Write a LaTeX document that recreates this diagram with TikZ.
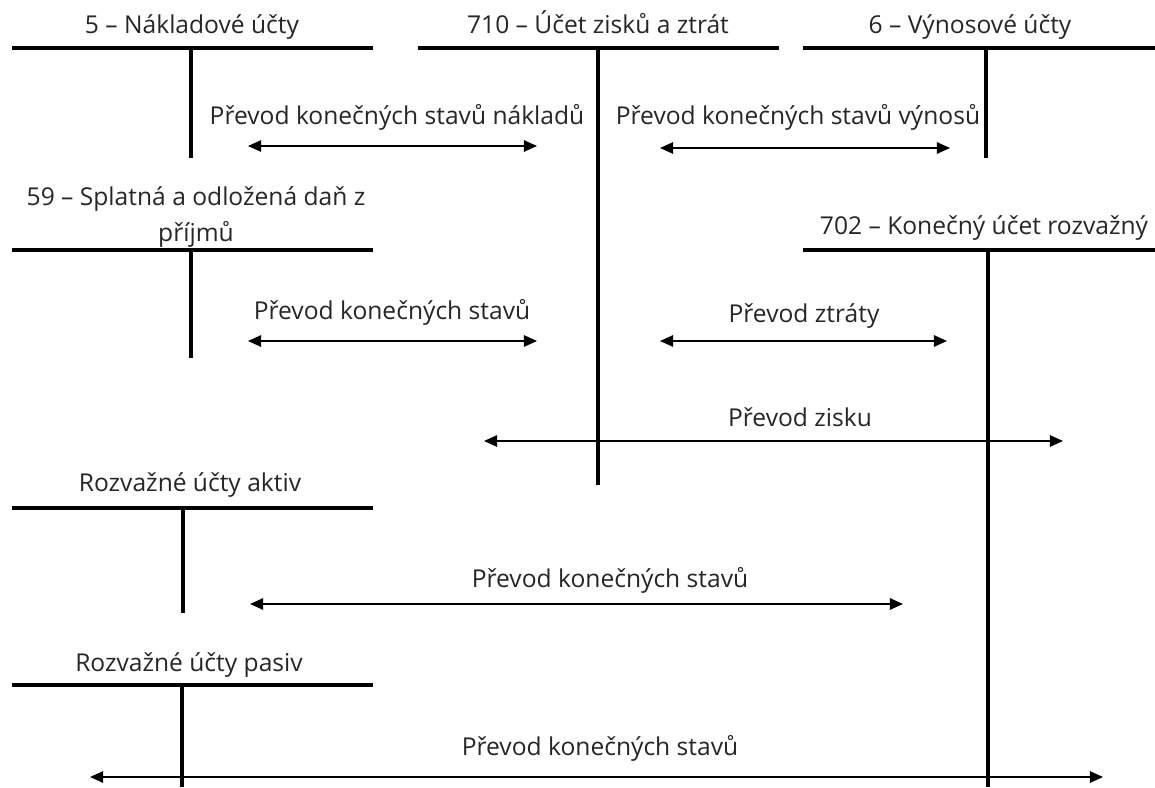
\documentclass[tikz,border=0pt]{standalone}
\usepackage{fontspec}
\setmainfont{Open Sans}
\usetikzlibrary{arrows.meta}

\begin{document}
\begin{tikzpicture}[
  x=0.02cm, y=-0.02cm,
  every node/.style={font=\fontsize{14}{20}\selectfont, text=black!85, inner sep=0pt},
  tline/.style={line width=2.1pt, color=black},
  ttitle/.style={align=center},
  lbl/.style={},
  arr/.style={{Triangle[length=7.5pt,width=6.5pt]}-{Triangle[length=7.5pt,width=6.5pt]},
              line width=1pt, color=black},
]
\useasboundingbox (0,0) rectangle (1155,787);
% ---- T-accounts: top row ----
\node[ttitle, anchor=base] (naktitle) at (192,34) {5 -- Nákladové účty};
\draw[tline] (12,48) -- (373,48);
\draw[tline] (191,48) -- (191,158);
\node[ttitle, anchor=base] (zztitle) at (598,34) {710 -- Účet zisků a ztrát};
\draw[tline] (418,48) -- (779,48);
\draw[tline] (598,48) -- (598,485);
\node[ttitle, anchor=base] (vyntitle) at (970,34) {6 -- Výnosové účty};
\draw[tline] (803,48) -- (1155,48);
\draw[tline] (986,48) -- (986,158);
% ---- T-accounts: second row ----
\node[ttitle] (dantitle) at (196,217) {59 -- Splatná a odložená daň z\\příjmů};
\draw[tline] (12,250) -- (373,250);
\draw[tline] (191,250) -- (191,358);
\node[ttitle] (rozvtitle) at (984,228) {702 -- Konečný účet rozvažný};
\draw[tline] (803,250) -- (1155,250);
\draw[tline] (988,250) -- (988,787);
% ---- balance sheet accounts ----
\node[ttitle] (akttitle) at (190,485) {Rozvažné účty aktiv};
\draw[tline] (12,508) -- (373,508);
\draw[tline] (183,508) -- (183,613);
\node[ttitle] (pastitle) at (189,665) {Rozvažné účty pasiv};
\draw[tline] (12,685) -- (373,685);
\draw[tline] (182,685) -- (182,787);
% ---- transfer arrows ----
\coordinate (nakL) at (248,146);  \coordinate (nakR) at (537,146);
\coordinate (vynL) at (660,148);  \coordinate (vynR) at (950,148);
\coordinate (danL) at (248,341);  \coordinate (danR) at (537,341);
\coordinate (ztrL) at (660,341);  \coordinate (ztrR) at (947,341);
\coordinate (zisL) at (484,441);  \coordinate (zisR) at (1063,441);
\coordinate (aktL) at (250,604);  \coordinate (aktR) at (903,604);
\coordinate (pasL) at (90,777);   \coordinate (pasR) at (1103,777);
\draw[arr] (nakL) -- (nakR);
\draw[arr] (vynL) -- (vynR);
\draw[arr] (danL) -- (danR);
\draw[arr] (ztrL) -- (ztrR);
\draw[arr] (zisL) -- (zisR);
\draw[arr] (aktL) -- (aktR);
\draw[arr] (pasL) -- (pasR);
% ---- arrow labels ----
\node[lbl] (naklbl) at (397,117) {Převod konečných stavů nákladů};
\node[lbl] (vynlbl) at (798,117) {Převod konečných stavů výnosů};
\node[lbl] (danlbl) at (392,312) {Převod konečných stavů};
\node[lbl] (ztrlbl) at (804,316) {Převod ztráty};
\node[lbl] (zislbl) at (800,417) {Převod zisku};
\node[lbl] (aktlbl) at (610,580) {Převod konečných stavů};
\node[lbl] (paslbl) at (600,748) {Převod konečných stavů};
\end{tikzpicture}
\end{document}
